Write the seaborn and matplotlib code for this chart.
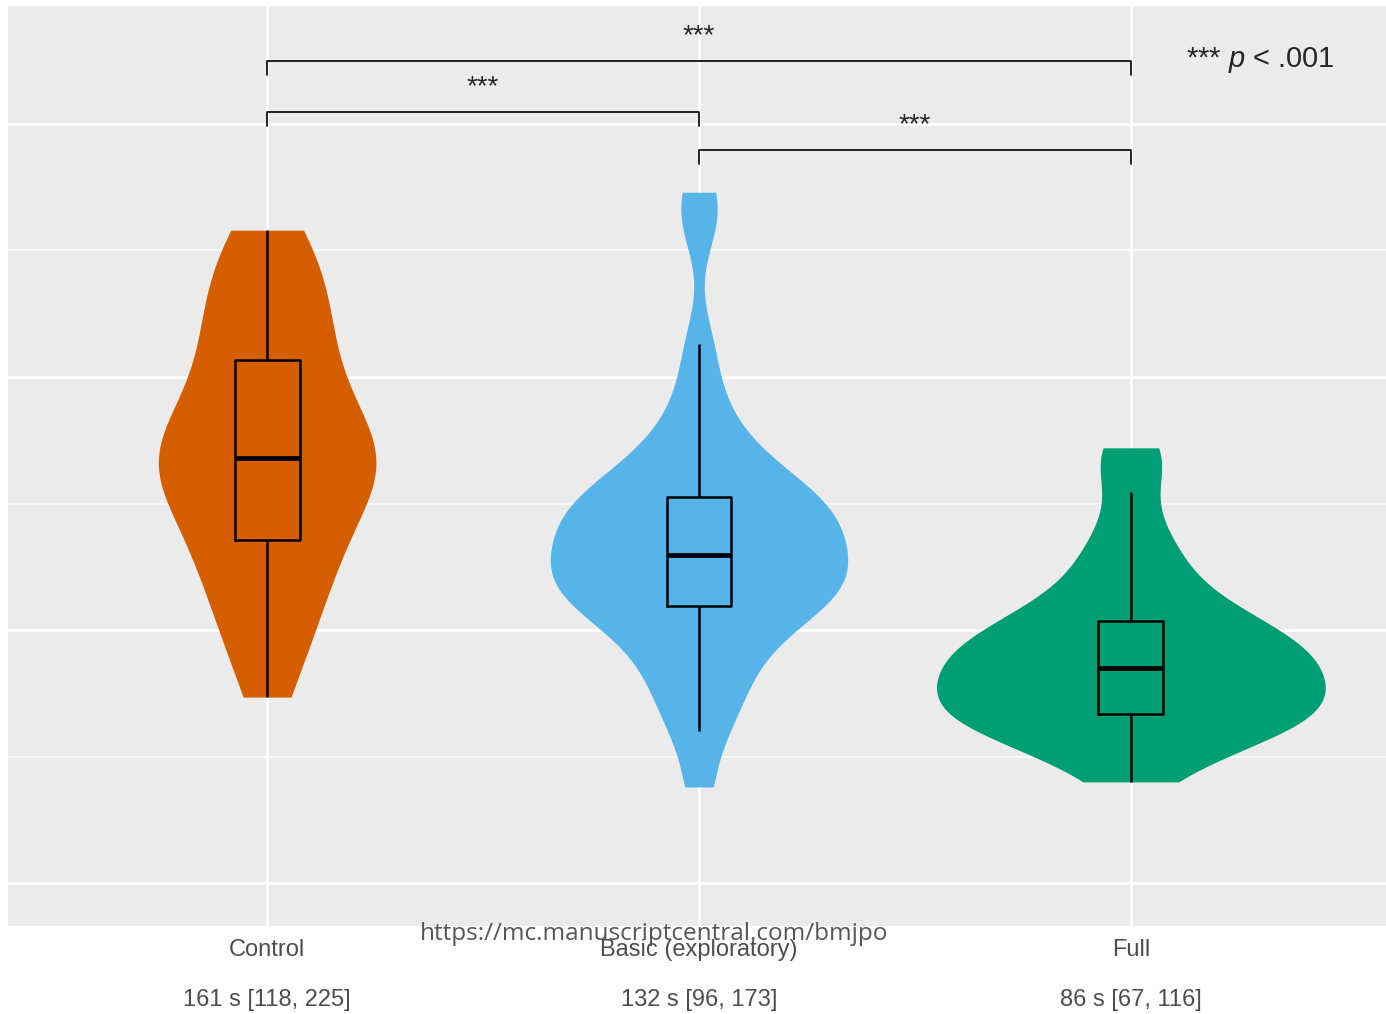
import numpy as np
import pandas as pd
import seaborn as sns
import matplotlib.pyplot as plt
from matplotlib.ticker import MultipleLocator

# values (arbitrary y units: 1 unit = one major grid step)
groups = ["Control", "Basic (exploratory)", "Full"]
stats_labels = ["161 s [118, 225]", "132 s [96, 173]", "86 s [67, 116]"]
colors = ["#D55E00", "#56B4E9", "#009E73"]

control = [0.735, 0.84, 0.93, 1.01, 1.08, 1.14, 1.20, 1.25, 1.30, 1.34,
           1.36, 1.42, 1.48, 1.53, 1.57, 1.60, 1.62, 1.64, 1.66, 1.67,
           1.69, 1.71, 1.73, 1.76, 1.79, 1.83, 1.88, 1.94, 2.00, 2.06,
           2.09, 2.14, 2.19, 2.25, 2.31, 2.37, 2.43, 2.48, 2.53, 2.58]
basic = [0.38, 0.60, 0.68, 0.76, 0.83, 0.89, 0.95, 1.00, 1.04, 1.08,
         1.10, 1.12, 1.14, 1.16, 1.18, 1.20, 1.22, 1.24, 1.26, 1.28,
         1.31, 1.34, 1.37, 1.40, 1.42, 1.44, 1.46, 1.48, 1.50, 1.52,
         1.55, 1.58, 1.62, 1.67, 1.73, 1.81, 1.94, 2.13, 2.60, 2.73]
full = [0.40, 0.47, 0.52, 0.56, 0.59, 0.61, 0.625, 0.64, 0.65, 0.66,
        0.67, 0.69, 0.71, 0.73, 0.75, 0.77, 0.79, 0.81, 0.83, 0.845,
        0.855, 0.87, 0.89, 0.91, 0.93, 0.95, 0.97, 0.99, 1.01, 1.03,
        1.05, 1.09, 1.14, 1.19, 1.25, 1.32, 1.39, 1.545, 1.69, 1.72]

# significance brackets: (left group, right group, bracket height)
brackets = [(0, 2, 3.249), (0, 1, 3.047), (1, 2, 2.897)]
bracket_labels = ["***", "***", "***"]

df = pd.DataFrame({
    "group": [groups[0]] * len(control) + [groups[1]] * len(basic) + [groups[2]] * len(full),
    "value": control + basic + full,
})


def nrd0(kde):
    # R's default bandwidth (Silverman rule of thumb), as used by ggplot2
    x = kde.dataset[0]
    sd = x.std(ddof=1)
    iqr = np.subtract(*np.percentile(x, [75, 25]))
    return 0.9 * min(sd, iqr / 1.34) * len(x) ** -0.2 / sd


sns.set_theme(style="darkgrid")
plt.rcParams["font.family"] = ["Liberation Sans", "DejaVu Sans"]
plt.rcParams["mathtext.fontset"] = "custom"
plt.rcParams["mathtext.rm"] = "Liberation Sans"
plt.rcParams["mathtext.it"] = "Liberation Sans:italic"

fig = plt.figure(figsize=(13.86, 10.14), dpi=100)
ax = fig.add_axes([8 / 1386, 88.4 / 1014, 1382 / 1386, 919.6 / 1014])
ax.set_facecolor("#EBEBEB")

sns.violinplot(data=df, x="group", y="value", hue="group", order=groups,
               palette=colors, legend=False, cut=0, inner=None,
               density_norm="area", common_norm=True, width=0.9,
               linewidth=0, saturation=1, bw_method=nrd0, ax=ax)

sns.boxplot(data=df, x="group", y="value", order=groups, width=0.15,
            color="black", fill=False, showfliers=False, showcaps=False,
            linewidth=1.8, medianprops=dict(linewidth=3.4), ax=ax)

for (a, b, h), lab in zip(brackets, bracket_labels):
    ax.plot([a, a, b, b], [h - 0.055, h, h, h - 0.055], color="black", lw=1.2)
    ax.text((a + b) / 2, h + 0.07, lab, ha="center", va="baseline", fontsize=20)

ax.text(2.3, 3.253, "*** $p$ < .001", ha="center", va="center", fontsize=21)

ax.set_xlim(-0.6, 2.6)
ax.set_ylim(-0.168, 3.466)
ax.set_yticks([0, 1, 2, 3])
ax.set_yticklabels([])
ax.yaxis.set_minor_locator(MultipleLocator(0.5))
ax.set_xticks(range(len(groups)))
ax.set_xticklabels([f"{g}\n\n{s}" for g, s in zip(groups, stats_labels)],
                   linespacing=1.16)
ax.set_xlabel("")
ax.set_ylabel("")

ax.grid(which="major", color="white", lw=2.2)
ax.grid(which="minor", axis="y", color="white", lw=1.1)
ax.set_axisbelow(True)
for s in ax.spines.values():
    s.set_visible(False)
ax.tick_params(axis="both", which="major", length=7, width=1.6, color="#333333",
               labelsize=17, labelcolor="#4D4D4D", pad=3)
ax.tick_params(axis="both", which="minor", length=0)

fig.text(654 / 1386, 1 - 934 / 1014, "https://mc.manuscriptcentral.com/bmjpo",
         ha="center", va="center", fontsize=17.5, color="#555555",
         family=["Open Sans", "DejaVu Sans"])

fig.savefig("out.png", dpi=100)
